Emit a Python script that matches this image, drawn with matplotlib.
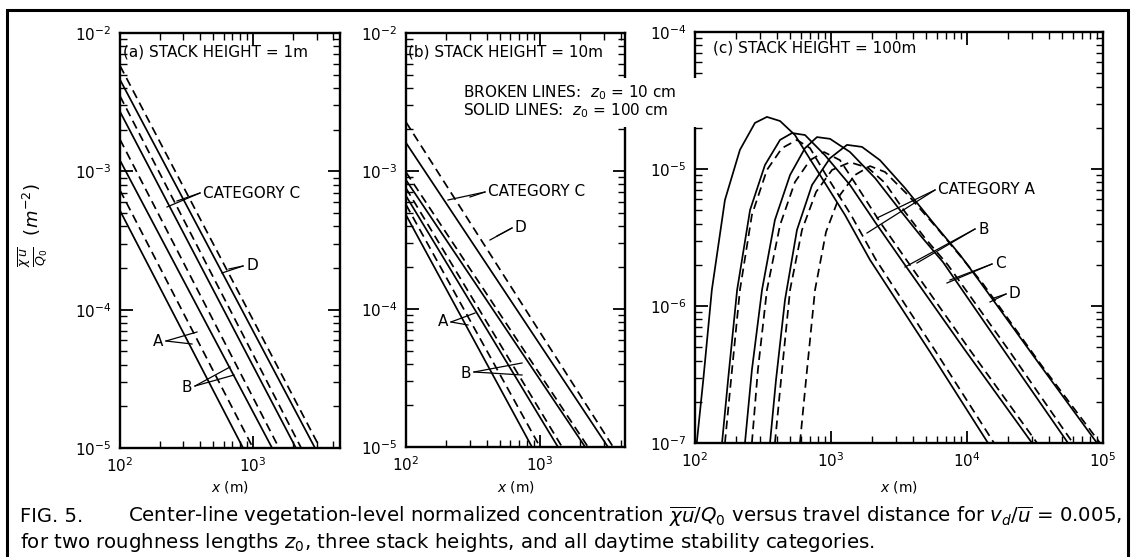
import numpy as np
import matplotlib
matplotlib.use('Agg')
import matplotlib.pyplot as plt
from matplotlib.ticker import LogLocator, NullFormatter
from matplotlib.patches import Rectangle
from matplotlib.lines import Line2D

W, H = 1133, 557

# (a) stack height 1 m: value at x = 100 m, and distance where the line reaches 1e-5
a_start = [5.2e-4, 7.3e-4, 1.2e-3, 1.7e-3, 2.7e-3, 3.5e-3, 4.6e-3, 5.8e-3]
a_end = [841, 1000, 1390, 1567, 2100, 2300, 2920, 3190]

# (b) stack height 10 m
b_start = [4.8e-4, 5.7e-4, 6.6e-4, 7.5e-4, 8.6e-4, 9.8e-4, 1.6e-3, 2.26e-3]
b_end = [870, 1000, 1360, 1460, 2170, 2280, 3210, 3510]

# solid = z0 100 cm, broken = z0 10 cm
ab_dashed = [False, True, False, True, False, True, False, True]

# (c) stack height 100 m, solid lines (z0 = 100 cm)
cA_x = [103, 115, 133, 166, 214, 276, 338, 422, 543, 830, 1267, 1936, 5350, 14270]
cA_y = [1e-7, 2.88e-7, 1.31e-6, 5.94e-6, 1.38e-5, 2.17e-5, 2.40e-5, 2.24e-5, 1.77e-5,
        9.04e-6, 4.62e-6, 2.17e-6, 4.62e-7, 1e-7]
cB_x = [158, 175, 204, 254, 327, 422, 517, 644, 903, 1380, 2108, 3382, 9660, 30060]
cB_y = [1e-7, 2.88e-7, 1.31e-6, 5.02e-6, 1.07e-5, 1.63e-5, 1.83e-5, 1.77e-5, 1.26e-5,
        7.64e-6, 4.10e-6, 2.09e-6, 4.77e-7, 1e-7]
cC_x = [233, 262, 311, 387, 500, 644, 789, 984, 1380, 2108, 3214, 4508, 6663, 19010, 55300]
cC_y = [1e-7, 3.41e-7, 1.31e-6, 4.25e-6, 9.04e-6, 1.42e-5, 1.71e-5, 1.66e-5, 1.33e-5,
        8.59e-6, 5.02e-6, 3.30e-6, 2.09e-6, 4.62e-7, 1e-7]
cD_x = [356, 394, 459, 562, 725, 984, 1312, 1690, 2291, 3499, 5820, 8890, 12470, 34440, 90300]
cD_y = [1e-7, 2.88e-7, 1.11e-6, 3.59e-6, 7.64e-6, 1.20e-5, 1.50e-5, 1.45e-5, 1.16e-5,
        7.26e-6, 3.90e-6, 2.36e-6, 1.50e-6, 3.71e-7, 1e-7]

# (c) broken lines (z0 = 10 cm)
dA_x = [166, 184, 214, 262, 338, 436, 562, 701, 919, 1403, 2143, 5916, 15810]
dA_y = [1e-7, 2.88e-7, 1.31e-6, 4.62e-6, 9.84e-6, 1.42e-5, 1.63e-5, 1.42e-5, 9.04e-6,
        4.62e-6, 2.17e-6, 4.62e-7, 1e-7]
dB_x = [262, 290, 338, 422, 543, 701, 889, 1164, 1501, 2291, 3680, 10510, 32740]
dB_y = [1e-7, 3.41e-7, 1.31e-6, 3.90e-6, 8.03e-6, 1.16e-5, 1.33e-5, 1.16e-5, 7.91e-6,
        4.10e-6, 2.09e-6, 4.77e-7, 1e-7]
dC_x = [387, 429, 500, 612, 776, 1017, 1380, 1871, 2496, 3499, 4910, 7245, 20700, 60100]
dC_y = [1e-7, 2.88e-7, 1.31e-6, 3.59e-6, 6.79e-6, 9.84e-6, 1.12e-5, 1.02e-5, 7.91e-6,
        4.86e-6, 3.13e-6, 1.99e-6, 4.62e-7, 1e-7]
dD_x = [591, 655, 763, 919, 1164, 1501, 1936, 2496, 3680, 6010, 9180, 13120, 35560, 95100]
dD_y = [1e-7, 2.88e-7, 1.31e-6, 3.47e-6, 6.46e-6, 9.04e-6, 1.05e-5, 9.51e-6, 6.46e-6,
        3.71e-6, 2.24e-6, 1.45e-6, 3.65e-7, 1e-7]

c_solid = [(cA_x, cA_y), (cB_x, cB_y), (cC_x, cC_y), (cD_x, cD_y)]
c_broken = [(dA_x, dA_y), (dB_x, dB_y), (dC_x, dC_y), (dD_x, dD_y)]


def fp(x, y):
    # pixel position (from top-left) -> figure fraction
    return (x / W, 1 - y / H)


def box(x0, y0, x1, y1):
    return [x0 / W, 1 - y1 / H, (x1 - x0) / W, (y1 - y0) / H]


def style(ax, xlim, ylim):
    ax.set_xscale('log')
    ax.set_yscale('log')
    ax.set_xlim(xlim)
    ax.set_ylim(ylim)
    for a in (ax.xaxis, ax.yaxis):
        a.set_major_locator(LogLocator(base=10, numticks=20))
        a.set_minor_locator(LogLocator(base=10, subs=np.arange(2, 10), numticks=20))
        a.set_minor_formatter(NullFormatter())
    ax.tick_params(which='both', direction='in', top=True, right=True,
                   labelsize=11, pad=6)
    ax.tick_params(which='major', length=9, width=1.3)
    ax.tick_params(which='minor', length=5, width=1.0)
    for s in ax.spines.values():
        s.set_linewidth(1.7)


lw = 1.25
dash = (0, (5, 3))

fig = plt.figure(figsize=(W / 100, H / 100), dpi=100)

ax1 = fig.add_axes(box(120, 33, 340, 448))
ax2 = fig.add_axes(box(406, 33, 625, 447))
ax3 = fig.add_axes(box(695, 32, 1103, 443))

for ax, ys, xs in [(ax1, a_start, a_end), (ax2, b_start, b_end)]:
    for y0, x1, d in zip(ys, xs, ab_dashed):
        ax.plot([100, x1], [y0, 1e-5], color='k', lw=lw, ls=dash if d else '-')

for x, y in c_solid:
    ax3.plot(x, y, color='k', lw=lw)
for x, y in c_broken:
    ax3.plot(x, y, color='k', lw=lw, ls=dash)

style(ax1, (100, 4500), (1e-5, 1e-2))
style(ax2, (100, 4300), (1e-5, 1e-2))
style(ax3, (100, 1e5), (1e-7, 1e-4))

# panel titles
fs = 11
fig.text(*fp(123, 52), '(a) STACK HEIGHT = 1m', fontsize=fs, va='center')
fig.text(*fp(408, 52), '(b) STACK HEIGHT = 10m', fontsize=fs, va='center')
fig.text(*fp(713, 48), '(c) STACK HEIGHT = 100m', fontsize=fs, va='center')

# broken / solid key, drawn over the spines
fig.add_artist(Rectangle(fp(455, 127), 249 / W, 49 / H, transform=fig.transFigure,
                         facecolor='white', edgecolor='none', zorder=5))
fig.text(*fp(463, 93), r'BROKEN LINES:  $z_0$ = 10 cm', fontsize=fs, va='center', zorder=6)
fig.text(*fp(463, 111), r'SOLID LINES:  $z_0$ = 100 cm', fontsize=fs, va='center', zorder=6)

# category pointers: text, text anchor, pointer start, pointer ends
labels = [
    ('CATEGORY C', 203, 193, 'left', (200, 193), [(167, 207), (177, 201)]),
    ('D', 246, 266, 'left', (243, 266), [(222, 273), (229, 269)]),
    ('A', 163, 342, 'right', (166, 341), [(197, 332), (192, 344)]),
    ('B', 192, 387, 'right', (195, 386), [(230, 367), (234, 375)]),
    ('CATEGORY C', 488, 192, 'left', (485, 192), [(448, 200), (470, 197)]),
    ('D', 515, 228, 'left', (512, 228), [(490, 240), (497, 236)]),
    ('A', 448, 322, 'right', (451, 322), [(475, 313), (468, 325)]),
    ('B', 471, 373, 'right', (474, 372), [(522, 363), (522, 375)]),
    ('CATEGORY A', 938, 190, 'left', (935, 190), [(867, 233), (877, 218)]),
    ('B', 978, 229, 'left', (975, 229), [(905, 267), (917, 263)]),
    ('C', 995, 264, 'left', (992, 264), [(950, 280), (947, 283)]),
    ('D', 1009, 294, 'left', (1006, 294), [(990, 302), (994, 298)]),
]
for txt, tx, ty, ha, p0, ends in labels:
    fig.text(*fp(tx, ty), txt, fontsize=fs, ha=ha, va='center')
    for e in ends:
        x0, y0 = fp(*p0)
        x1, y1 = fp(*e)
        fig.add_artist(Line2D([x0, x1], [y0, y1], color='k', lw=0.9,
                              transform=fig.transFigure))

# axis labels
fig.text(*fp(33, 225), r'$\frac{\overline{\chi}\,\overline{u}}{Q_0}\ \ (m^{-2})$',
         fontsize=13, rotation=90, ha='center', va='center')
for cx in (230, 516, 899):
    fig.text(*fp(cx, 487), r'$x$ (m)', fontsize=10, ha='center', va='center')

# caption
fig.text(*fp(20, 517), 'FIG. 5.', fontsize=14, va='center')
fig.text(*fp(128, 517),
         r'Center-line vegetation-level normalized concentration '
         r'$\overline{\chi}\overline{u}/Q_0$ versus travel distance for '
         r'$v_d/\overline{u}$ = 0.005,',
         fontsize=14.2, va='center')
fig.text(*fp(20, 542),
         r'for two roughness lengths $z_0$, three stack heights, and all daytime '
         r'stability categories.',
         fontsize=14.2, va='center')

# outer frame
fig.add_artist(Rectangle(fp(7, 580), 1121 / W, 570 / H, transform=fig.transFigure,
                         facecolor='none', edgecolor='k', lw=2.2, clip_on=False))

fig.savefig('out.png', dpi=100)
